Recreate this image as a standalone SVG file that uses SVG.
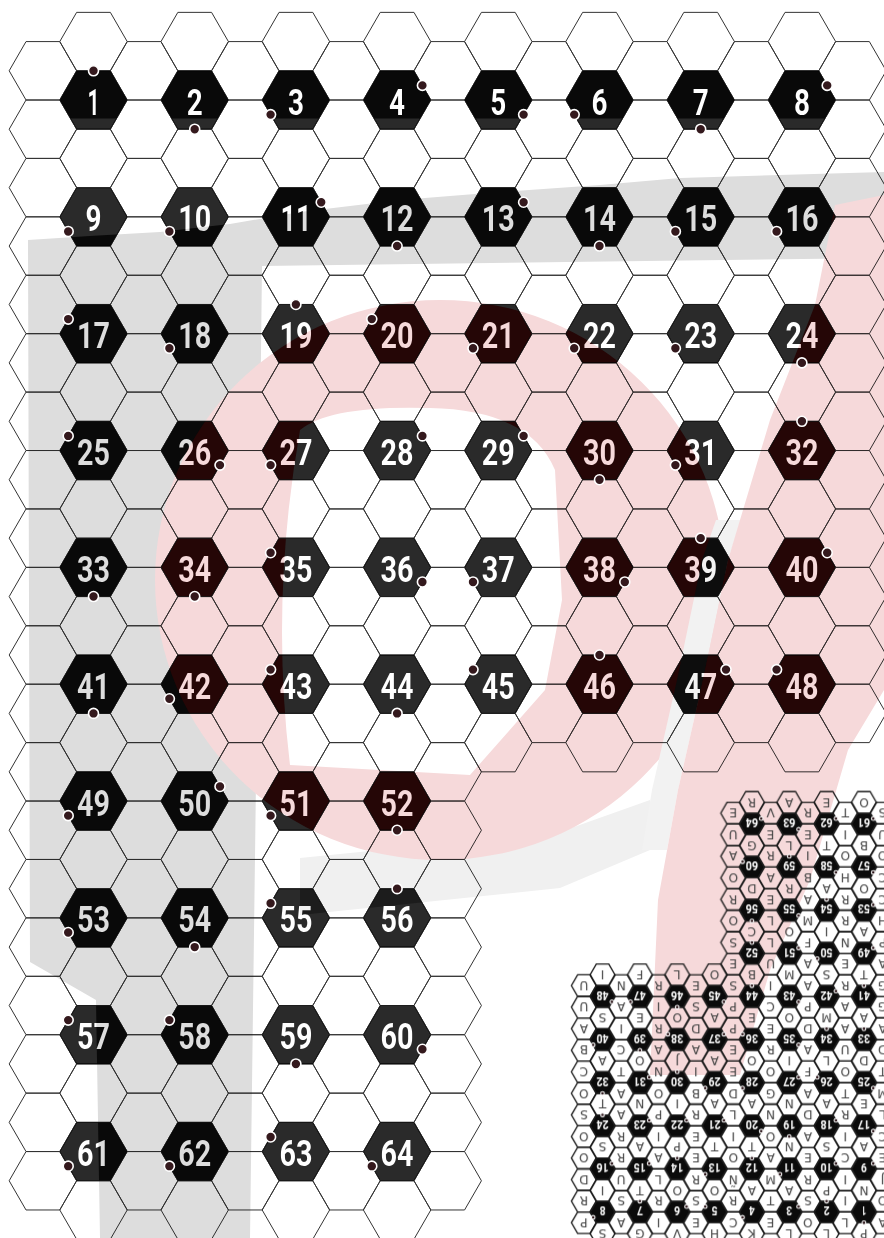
<svg xmlns="http://www.w3.org/2000/svg" xmlns:xlink="http://www.w3.org/1999/xlink" width="884" height="1238" viewBox="0 0 884 1238">
<style>
.n{font-family:Roboto,"DejaVu Sans",sans-serif;font-weight:700;font-size:36px;text-anchor:middle}
.l{font-family:"DejaVu Sans","Liberation Sans",sans-serif;font-size:33px;text-anchor:middle;fill:#444}
</style>
<defs>
<path id="h" d="M-33.73 0L-16.87-29.21H16.87L33.73 0L16.87 29.21H-16.87Z"/>
<g id="eA"><use href="#h" y="41.58"/><use href="#h" y="100"/><use href="#h" y="158.42"/><use href="#h" y="216.84"/><use href="#h" y="275.26"/><use href="#h" y="333.68"/><use href="#h" y="392.1"/><use href="#h" y="450.52"/><use href="#h" y="508.94"/><use href="#h" y="567.36"/><use href="#h" y="625.78"/><use href="#h" y="684.2"/><use href="#h" y="742.62"/></g>
<g id="eB"><use href="#h" y="801.04"/><use href="#h" y="859.46"/><use href="#h" y="917.88"/><use href="#h" y="976.3"/><use href="#h" y="1034.72"/><use href="#h" y="1093.14"/><use href="#h" y="1151.56"/><use href="#h" y="1209.98"/></g>
<g id="oA"><use href="#h" y="70.79"/><use href="#h" y="129.21"/><use href="#h" y="187.63"/><use href="#h" y="246.05"/><use href="#h" y="304.47"/><use href="#h" y="362.89"/><use href="#h" y="421.31"/><use href="#h" y="479.73"/><use href="#h" y="538.15"/><use href="#h" y="596.57"/><use href="#h" y="654.99"/><use href="#h" y="713.41"/></g>
<g id="oB"><use href="#h" y="771.83"/><use href="#h" y="830.25"/><use href="#h" y="888.67"/><use href="#h" y="947.09"/><use href="#h" y="1005.51"/><use href="#h" y="1063.93"/><use href="#h" y="1122.35"/><use href="#h" y="1180.77"/></g>
<g id="grid">
<use href="#eA" x="93.5"/><use href="#eA" x="194.7"/><use href="#eA" x="295.9"/><use href="#eA" x="397.1"/><use href="#eA" x="498.3"/><use href="#eA" x="599.5"/><use href="#eA" x="700.7"/><use href="#eA" x="801.9"/>
<use href="#eB" x="93.5"/><use href="#eB" x="194.7"/><use href="#eB" x="295.9"/><use href="#eB" x="397.1"/>
<use href="#oA" x="42.9"/><use href="#oA" x="144.1"/><use href="#oA" x="245.3"/><use href="#oA" x="346.5"/><use href="#oA" x="447.7"/><use href="#oA" x="548.9"/><use href="#oA" x="650.1"/><use href="#oA" x="751.3"/><use href="#oA" x="852.5"/>
<use href="#oB" x="42.9"/><use href="#oB" x="144.1"/><use href="#oB" x="245.3"/><use href="#oB" x="346.5"/><use href="#oB" x="447.7"/>
</g>
<clipPath id="nclip">
<use href="#h" x="93.5" y="100"/><use href="#h" x="194.7" y="100"/><use href="#h" x="295.9" y="100"/><use href="#h" x="397.1" y="100"/><use href="#h" x="498.3" y="100"/><use href="#h" x="599.5" y="100"/><use href="#h" x="700.7" y="100"/><use href="#h" x="801.9" y="100"/>
<use href="#h" x="93.5" y="216.84"/><use href="#h" x="194.7" y="216.84"/><use href="#h" x="295.9" y="216.84"/><use href="#h" x="397.1" y="216.84"/><use href="#h" x="498.3" y="216.84"/><use href="#h" x="599.5" y="216.84"/><use href="#h" x="700.7" y="216.84"/><use href="#h" x="801.9" y="216.84"/>
<use href="#h" x="93.5" y="333.68"/><use href="#h" x="194.7" y="333.68"/><use href="#h" x="295.9" y="333.68"/><use href="#h" x="397.1" y="333.68"/><use href="#h" x="498.3" y="333.68"/><use href="#h" x="599.5" y="333.68"/><use href="#h" x="700.7" y="333.68"/><use href="#h" x="801.9" y="333.68"/>
<use href="#h" x="93.5" y="450.52"/><use href="#h" x="194.7" y="450.52"/><use href="#h" x="295.9" y="450.52"/><use href="#h" x="397.1" y="450.52"/><use href="#h" x="498.3" y="450.52"/><use href="#h" x="599.5" y="450.52"/><use href="#h" x="700.7" y="450.52"/><use href="#h" x="801.9" y="450.52"/>
<use href="#h" x="93.5" y="567.36"/><use href="#h" x="194.7" y="567.36"/><use href="#h" x="295.9" y="567.36"/><use href="#h" x="397.1" y="567.36"/><use href="#h" x="498.3" y="567.36"/><use href="#h" x="599.5" y="567.36"/><use href="#h" x="700.7" y="567.36"/><use href="#h" x="801.9" y="567.36"/>
<use href="#h" x="93.5" y="684.2"/><use href="#h" x="194.7" y="684.2"/><use href="#h" x="295.9" y="684.2"/><use href="#h" x="397.1" y="684.2"/><use href="#h" x="498.3" y="684.2"/><use href="#h" x="599.5" y="684.2"/><use href="#h" x="700.7" y="684.2"/><use href="#h" x="801.9" y="684.2"/>
<use href="#h" x="93.5" y="801.04"/><use href="#h" x="194.7" y="801.04"/><use href="#h" x="295.9" y="801.04"/><use href="#h" x="397.1" y="801.04"/>
<use href="#h" x="93.5" y="917.88"/><use href="#h" x="194.7" y="917.88"/><use href="#h" x="295.9" y="917.88"/><use href="#h" x="397.1" y="917.88"/>
<use href="#h" x="93.5" y="1034.72"/><use href="#h" x="194.7" y="1034.72"/><use href="#h" x="295.9" y="1034.72"/><use href="#h" x="397.1" y="1034.72"/>
<use href="#h" x="93.5" y="1151.56"/><use href="#h" x="194.7" y="1151.56"/><use href="#h" x="295.9" y="1151.56"/><use href="#h" x="397.1" y="1151.56"/>
</clipPath>
<g id="ntext" class="n">
<text x="93.5" y="114.5" textLength="12" lengthAdjust="spacingAndGlyphs">1</text><text x="194.7" y="114.5" textLength="16" lengthAdjust="spacingAndGlyphs">2</text><text x="295.9" y="114.5" textLength="16" lengthAdjust="spacingAndGlyphs">3</text><text x="397.1" y="114.5" textLength="16" lengthAdjust="spacingAndGlyphs">4</text><text x="498.3" y="114.5" textLength="16" lengthAdjust="spacingAndGlyphs">5</text><text x="599.5" y="114.5" textLength="16" lengthAdjust="spacingAndGlyphs">6</text><text x="700.7" y="114.5" textLength="16" lengthAdjust="spacingAndGlyphs">7</text><text x="801.9" y="114.5" textLength="16" lengthAdjust="spacingAndGlyphs">8</text>
<text x="93.5" y="231.3" textLength="16" lengthAdjust="spacingAndGlyphs">9</text><text x="194.7" y="231.3" textLength="33" lengthAdjust="spacingAndGlyphs">10</text><text x="295.9" y="231.3" textLength="31" lengthAdjust="spacingAndGlyphs">11</text><text x="397.1" y="231.3" textLength="33" lengthAdjust="spacingAndGlyphs">12</text><text x="498.3" y="231.3" textLength="33" lengthAdjust="spacingAndGlyphs">13</text><text x="599.5" y="231.3" textLength="33" lengthAdjust="spacingAndGlyphs">14</text><text x="700.7" y="231.3" textLength="33" lengthAdjust="spacingAndGlyphs">15</text><text x="801.9" y="231.3" textLength="33" lengthAdjust="spacingAndGlyphs">16</text>
<text x="93.5" y="348.2" textLength="33" lengthAdjust="spacingAndGlyphs">17</text><text x="194.7" y="348.2" textLength="33" lengthAdjust="spacingAndGlyphs">18</text><text x="295.9" y="348.2" textLength="33" lengthAdjust="spacingAndGlyphs">19</text><text x="397.1" y="348.2" textLength="33" lengthAdjust="spacingAndGlyphs">20</text><text x="498.3" y="348.2" textLength="33" lengthAdjust="spacingAndGlyphs">21</text><text x="599.5" y="348.2" textLength="33" lengthAdjust="spacingAndGlyphs">22</text><text x="700.7" y="348.2" textLength="33" lengthAdjust="spacingAndGlyphs">23</text><text x="801.9" y="348.2" textLength="33" lengthAdjust="spacingAndGlyphs">24</text>
<text x="93.5" y="465" textLength="33" lengthAdjust="spacingAndGlyphs">25</text><text x="194.7" y="465" textLength="33" lengthAdjust="spacingAndGlyphs">26</text><text x="295.9" y="465" textLength="33" lengthAdjust="spacingAndGlyphs">27</text><text x="397.1" y="465" textLength="33" lengthAdjust="spacingAndGlyphs">28</text><text x="498.3" y="465" textLength="33" lengthAdjust="spacingAndGlyphs">29</text><text x="599.5" y="465" textLength="33" lengthAdjust="spacingAndGlyphs">30</text><text x="700.7" y="465" textLength="33" lengthAdjust="spacingAndGlyphs">31</text><text x="801.9" y="465" textLength="33" lengthAdjust="spacingAndGlyphs">32</text>
<text x="93.5" y="581.9" textLength="33" lengthAdjust="spacingAndGlyphs">33</text><text x="194.7" y="581.9" textLength="33" lengthAdjust="spacingAndGlyphs">34</text><text x="295.9" y="581.9" textLength="33" lengthAdjust="spacingAndGlyphs">35</text><text x="397.1" y="581.9" textLength="33" lengthAdjust="spacingAndGlyphs">36</text><text x="498.3" y="581.9" textLength="33" lengthAdjust="spacingAndGlyphs">37</text><text x="599.5" y="581.9" textLength="33" lengthAdjust="spacingAndGlyphs">38</text><text x="700.7" y="581.9" textLength="33" lengthAdjust="spacingAndGlyphs">39</text><text x="801.9" y="581.9" textLength="33" lengthAdjust="spacingAndGlyphs">40</text>
<text x="93.5" y="698.7" textLength="33" lengthAdjust="spacingAndGlyphs">41</text><text x="194.7" y="698.7" textLength="33" lengthAdjust="spacingAndGlyphs">42</text><text x="295.9" y="698.7" textLength="33" lengthAdjust="spacingAndGlyphs">43</text><text x="397.1" y="698.7" textLength="33" lengthAdjust="spacingAndGlyphs">44</text><text x="498.3" y="698.7" textLength="33" lengthAdjust="spacingAndGlyphs">45</text><text x="599.5" y="698.7" textLength="33" lengthAdjust="spacingAndGlyphs">46</text><text x="700.7" y="698.7" textLength="33" lengthAdjust="spacingAndGlyphs">47</text><text x="801.9" y="698.7" textLength="33" lengthAdjust="spacingAndGlyphs">48</text>
<text x="93.5" y="815.5" textLength="33" lengthAdjust="spacingAndGlyphs">49</text><text x="194.7" y="815.5" textLength="33" lengthAdjust="spacingAndGlyphs">50</text><text x="295.9" y="815.5" textLength="33" lengthAdjust="spacingAndGlyphs">51</text><text x="397.1" y="815.5" textLength="33" lengthAdjust="spacingAndGlyphs">52</text>
<text x="93.5" y="932.4" textLength="33" lengthAdjust="spacingAndGlyphs">53</text><text x="194.7" y="932.4" textLength="33" lengthAdjust="spacingAndGlyphs">54</text><text x="295.9" y="932.4" textLength="33" lengthAdjust="spacingAndGlyphs">55</text><text x="397.1" y="932.4" textLength="33" lengthAdjust="spacingAndGlyphs">56</text>
<text x="93.5" y="1049.2" textLength="33" lengthAdjust="spacingAndGlyphs">57</text><text x="194.7" y="1049.2" textLength="33" lengthAdjust="spacingAndGlyphs">58</text><text x="295.9" y="1049.2" textLength="33" lengthAdjust="spacingAndGlyphs">59</text><text x="397.1" y="1049.2" textLength="33" lengthAdjust="spacingAndGlyphs">60</text>
<text x="93.5" y="1166.1" textLength="33" lengthAdjust="spacingAndGlyphs">61</text><text x="194.7" y="1166.1" textLength="33" lengthAdjust="spacingAndGlyphs">62</text><text x="295.9" y="1166.1" textLength="33" lengthAdjust="spacingAndGlyphs">63</text><text x="397.1" y="1166.1" textLength="33" lengthAdjust="spacingAndGlyphs">64</text>
</g>
<g id="dots">
<circle cx="93.5" cy="70.79" r="5"/><circle cx="194.7" cy="129.21" r="5"/><circle cx="270.6" cy="114.6" r="5"/><circle cx="422.4" cy="85.4" r="5"/><circle cx="523.6" cy="114.6" r="5"/><circle cx="574.2" cy="114.6" r="5"/><circle cx="700.7" cy="129.21" r="5"/><circle cx="827.2" cy="85.4" r="5"/>
<circle cx="68.2" cy="231.44" r="5"/><circle cx="169.4" cy="231.44" r="5"/><circle cx="321.2" cy="202.24" r="5"/><circle cx="397.1" cy="246.05" r="5"/><circle cx="523.6" cy="202.24" r="5"/><circle cx="599.5" cy="246.05" r="5"/><circle cx="675.4" cy="231.44" r="5"/><circle cx="776.6" cy="231.44" r="5"/>
<circle cx="68.2" cy="319.08" r="5"/><circle cx="169.4" cy="348.28" r="5"/><circle cx="295.9" cy="304.47" r="5"/><circle cx="371.8" cy="319.08" r="5"/><circle cx="473" cy="348.28" r="5"/><circle cx="574.2" cy="348.28" r="5"/><circle cx="675.4" cy="348.28" r="5"/><circle cx="801.9" cy="362.89" r="5"/>
<circle cx="68.2" cy="435.92" r="5"/><circle cx="220" cy="465.12" r="5"/><circle cx="270.6" cy="465.12" r="5"/><circle cx="422.4" cy="435.92" r="5"/><circle cx="523.6" cy="435.92" r="5"/><circle cx="599.5" cy="479.73" r="5"/><circle cx="675.4" cy="465.12" r="5"/><circle cx="801.9" cy="421.31" r="5"/>
<circle cx="93.5" cy="596.57" r="5"/><circle cx="194.7" cy="596.57" r="5"/><circle cx="270.6" cy="552.76" r="5"/><circle cx="422.4" cy="581.96" r="5"/><circle cx="473" cy="581.96" r="5"/><circle cx="624.8" cy="581.96" r="5"/><circle cx="700.7" cy="538.15" r="5"/><circle cx="827.2" cy="552.76" r="5"/>
<circle cx="93.5" cy="713.41" r="5"/><circle cx="169.4" cy="698.8" r="5"/><circle cx="270.6" cy="669.6" r="5"/><circle cx="397.1" cy="713.41" r="5"/><circle cx="473" cy="669.6" r="5"/><circle cx="599.5" cy="654.99" r="5"/><circle cx="726" cy="669.6" r="5"/><circle cx="776.6" cy="669.6" r="5"/>
<circle cx="68.2" cy="815.64" r="5"/><circle cx="220" cy="786.44" r="5"/><circle cx="270.6" cy="815.64" r="5"/><circle cx="397.1" cy="830.25" r="5"/>
<circle cx="68.2" cy="932.48" r="5"/><circle cx="194.7" cy="947.09" r="5"/><circle cx="270.6" cy="903.28" r="5"/><circle cx="397.1" cy="888.67" r="5"/>
<circle cx="68.2" cy="1020.12" r="5"/><circle cx="169.4" cy="1020.12" r="5"/><circle cx="295.9" cy="1063.93" r="5"/><circle cx="422.4" cy="1049.32" r="5"/>
<circle cx="68.2" cy="1166.16" r="5"/><circle cx="169.4" cy="1166.16" r="5"/><circle cx="270.6" cy="1136.96" r="5"/><circle cx="371.8" cy="1166.16" r="5"/>
</g>
<path id="shGray" d="M28 240L90 236L160 232L230 224L300 212L400 200L500 192L600 185L680 178L884 172V258L262 266L256 780L250 1238H100L96 1000L30 962Z"/>
<path id="shRing" fill-rule="evenodd" d="M155 580A285 280 0 1 0 725 580A285 280 0 1 0 155 580ZM300 430Q330 405 430 408Q530 410 555 470L562 600L545 690L470 775L290 765Q270 600 300 430Z"/>
<path id="shStripe" d="M716 520L741 520L728 560L703 680L678 790L667 850L642 850L652 790L677 680L702 560Z"/>
<path id="shStem" d="M815 305L835 205L884 195V690L848 750L810 880L770 970L740 1075H650L658 900L678 790L703 680L728 560L770 420Z"/>
<path id="shLight" d="M300 858L560 832L650 800L650 850L560 888L300 915Z"/>
<mask id="tm" maskUnits="userSpaceOnUse" x="0" y="0" width="884" height="1238"><rect width="884" height="1238" fill="#fff"/><use href="#ntext" fill="#000"/></mask>
</defs>
<rect id="paper" width="884" height="1238" fill="#fff"/>
<g id="background">
<use href="#shGray" fill="#dddddd"/>
<use href="#shLight" fill="#f0f0f0"/>
<use href="#shRing" fill="#f6d9da"/>
<use href="#shStripe" fill="#f2f2f2"/>
<use href="#shStem" fill="#f6d9da"/>
</g>
<g id="number-cells" mask="url(#tm)">
<g clip-path="url(#nclip)">
<rect width="884" height="1238" fill="#2a2a2a"/>
<use href="#shGray" fill="#090909"/>
<use href="#shLight" fill="#1c1c1c"/>
<rect width="884" height="118.5" fill="#090909"/>
<rect x="240" y="180" width="644" height="70" fill="#090909"/>
<use href="#shRing" fill="#250606"/>
<use href="#shStripe" fill="#0d0d0d"/>
<use href="#shStem" fill="#250606"/>
</g>
</g>
<g id="connectors-grid" fill="none" stroke="#333" stroke-width="1" style="mix-blend-mode:multiply"><use href="#grid"/></g>
<g id="markers"><use href="#dots" fill="#34191d" stroke="#fff" stroke-width="1.6"/></g>
<g id="minimap" transform="matrix(-0.369 0 0 -0.369 898.5 1248.9)">
<rect width="884" height="1238" fill="#0b0b0b" clip-path="url(#nclip)"/>
<use href="#grid" fill="none" stroke="#1c1c1c" stroke-width="3.6"/>
<use href="#ntext" fill="#fff"/>
<g class="l">
<text x="93.5" y="53.6">P</text><text x="194.7" y="53.6">L</text><text x="295.9" y="53.6">L</text><text x="397.1" y="53.6">K</text><text x="498.3" y="53.6">H</text><text x="599.5" y="53.6">V</text><text x="700.7" y="53.6">G</text><text x="801.9" y="53.6">S</text>
<text x="93.5" y="170.4">N</text><text x="194.7" y="170.4">P</text><text x="295.9" y="170.4">A</text><text x="397.1" y="170.4">A</text><text x="498.3" y="170.4">O</text><text x="599.5" y="170.4">O</text><text x="700.7" y="170.4">T</text><text x="801.9" y="170.4">I</text>
<text x="93.5" y="287.3">A</text><text x="194.7" y="287.3">S</text><text x="295.9" y="287.3">N</text><text x="397.1" y="287.3">T</text><text x="498.3" y="287.3">T</text><text x="599.5" y="287.3">P</text><text x="700.7" y="287.3">A</text><text x="801.9" y="287.3">S</text>
<text x="93.5" y="404.1">E</text><text x="194.7" y="404.1">A</text><text x="295.9" y="404.1">N</text><text x="397.1" y="404.1">A</text><text x="498.3" y="404.1">A</text><text x="599.5" y="404.1">I</text><text x="700.7" y="404.1">N</text><text x="801.9" y="404.1">T</text>
<text x="93.5" y="520.9">D</text><text x="194.7" y="520.9">L</text><text x="295.9" y="520.9">I</text><text x="397.1" y="520.9">O</text><text x="498.3" y="520.9">A</text><text x="599.5" y="520.9">J</text><text x="700.7" y="520.9">O</text><text x="801.9" y="520.9">A</text>
<text x="93.5" y="637.8">A</text><text x="194.7" y="637.8">M</text><text x="295.9" y="637.8">O</text><text x="397.1" y="637.8">E</text><text x="498.3" y="637.8">A</text><text x="599.5" y="637.8">O</text><text x="700.7" y="637.8">E</text><text x="801.9" y="637.8">S</text>
<text x="93.5" y="754.6">T</text><text x="194.7" y="754.6">S</text><text x="295.9" y="754.6">M</text><text x="397.1" y="754.6">B</text><text x="498.3" y="754.6">O</text><text x="599.5" y="754.6">L</text><text x="700.7" y="754.6">F</text><text x="801.9" y="754.6">I</text>
<text x="93.5" y="871.5">A</text><text x="194.7" y="871.5">I</text><text x="295.9" y="871.5">O</text><text x="397.1" y="871.5">C</text>
<text x="93.5" y="988.3">O</text><text x="194.7" y="988.3">A</text><text x="295.9" y="988.3">R</text><text x="397.1" y="988.3">D</text>
<text x="93.5" y="1105.1">B</text><text x="194.7" y="1105.1">T</text><text x="295.9" y="1105.1">L</text><text x="397.1" y="1105.1">G</text>
<text x="93.5" y="1222">O</text><text x="194.7" y="1222">E</text><text x="295.9" y="1222">A</text><text x="397.1" y="1222">R</text>
<text x="42.9" y="82.8">A</text><text x="144.1" y="82.8">L</text><text x="245.3" y="82.8">O</text><text x="346.5" y="82.8">E</text><text x="447.7" y="82.8">C</text><text x="548.9" y="82.8">E</text><text x="650.1" y="82.8">I</text><text x="751.3" y="82.8">A</text><text x="852.5" y="82.8">P</text>
<text x="42.9" y="141.2">O</text><text x="144.1" y="141.2">I</text><text x="245.3" y="141.2">S</text><text x="346.5" y="141.2">T</text><text x="447.7" y="141.2">R</text><text x="548.9" y="141.2">S</text><text x="650.1" y="141.2">R</text><text x="751.3" y="141.2">S</text><text x="852.5" y="141.2">R</text>
<text x="42.9" y="199.6">J</text><text x="144.1" y="199.6">I</text><text x="245.3" y="199.6">R</text><text x="346.5" y="199.6">M</text><text x="447.7" y="199.6">Ñ</text><text x="548.9" y="199.6">R</text><text x="650.1" y="199.6">L</text><text x="751.3" y="199.6">U</text><text x="852.5" y="199.6">D</text>
<text x="42.9" y="258.1">E</text><text x="144.1" y="258.1">C</text><text x="245.3" y="258.1">E</text><text x="346.5" y="258.1">A</text><text x="447.7" y="258.1">O</text><text x="548.9" y="258.1">E</text><text x="650.1" y="258.1">A</text><text x="751.3" y="258.1">R</text><text x="852.5" y="258.1">O</text>
<text x="42.9" y="316.5">C</text><text x="144.1" y="316.5">I</text><text x="245.3" y="316.5">A</text><text x="346.5" y="316.5">O</text><text x="447.7" y="316.5">I</text><text x="548.9" y="316.5">E</text><text x="650.1" y="316.5">I</text><text x="751.3" y="316.5">R</text><text x="852.5" y="316.5">O</text>
<text x="42.9" y="374.9">L</text><text x="144.1" y="374.9">R</text><text x="245.3" y="374.9">D</text><text x="346.5" y="374.9">N</text><text x="447.7" y="374.9">L</text><text x="548.9" y="374.9">R</text><text x="650.1" y="374.9">P</text><text x="751.3" y="374.9">A</text><text x="852.5" y="374.9">S</text>
<text x="42.9" y="433.3">M</text><text x="144.1" y="433.3">T</text><text x="245.3" y="433.3">A</text><text x="346.5" y="433.3">G</text><text x="447.7" y="433.3">D</text><text x="548.9" y="433.3">B</text><text x="650.1" y="433.3">O</text><text x="751.3" y="433.3">A</text><text x="852.5" y="433.3">O</text>
<text x="42.9" y="491.7">T</text><text x="144.1" y="491.7">O</text><text x="245.3" y="491.7">F</text><text x="346.5" y="491.7">O</text><text x="447.7" y="491.7">E</text><text x="548.9" y="491.7">I</text><text x="650.1" y="491.7">N</text><text x="751.3" y="491.7">T</text><text x="852.5" y="491.7">C</text>
<text x="42.9" y="550.2">D</text><text x="144.1" y="550.2">U</text><text x="245.3" y="550.2">A</text><text x="346.5" y="550.2">R</text><text x="447.7" y="550.2">E</text><text x="548.9" y="550.2">A</text><text x="650.1" y="550.2">A</text><text x="751.3" y="550.2">C</text><text x="852.5" y="550.2">B</text>
<text x="42.9" y="608.6">A</text><text x="144.1" y="608.6">A</text><text x="245.3" y="608.6">D</text><text x="346.5" y="608.6">E</text><text x="447.7" y="608.6">P</text><text x="548.9" y="608.6">D</text><text x="650.1" y="608.6">R</text><text x="751.3" y="608.6">I</text><text x="852.5" y="608.6">A</text>
<text x="42.9" y="667">G</text><text x="144.1" y="667">A</text><text x="245.3" y="667">P</text><text x="346.5" y="667">C</text><text x="447.7" y="667">P</text><text x="548.9" y="667">S</text><text x="650.1" y="667">I</text><text x="751.3" y="667">A</text><text x="852.5" y="667">U</text>
<text x="42.9" y="725.4">G</text><text x="144.1" y="725.4">R</text><text x="245.3" y="725.4">A</text><text x="346.5" y="725.4">I</text><text x="447.7" y="725.4">S</text><text x="548.9" y="725.4">E</text><text x="650.1" y="725.4">R</text><text x="751.3" y="725.4">N</text><text x="852.5" y="725.4">U</text>
<text x="42.9" y="783.8">A</text><text x="144.1" y="783.8">E</text><text x="245.3" y="783.8">A</text><text x="346.5" y="783.8">U</text><text x="447.7" y="783.8">E</text>
<text x="42.9" y="842.3">P</text><text x="144.1" y="842.3">N</text><text x="245.3" y="842.3">F</text><text x="346.5" y="842.3">L</text><text x="447.7" y="842.3">S</text>
<text x="42.9" y="900.7">H</text><text x="144.1" y="900.7">R</text><text x="245.3" y="900.7">M</text><text x="346.5" y="900.7">L</text><text x="447.7" y="900.7">O</text>
<text x="42.9" y="959.1">C</text><text x="144.1" y="959.1">R</text><text x="245.3" y="959.1">A</text><text x="346.5" y="959.1">E</text><text x="447.7" y="959.1">R</text>
<text x="42.9" y="1017.5">C</text><text x="144.1" y="1017.5">H</text><text x="245.3" y="1017.5">B</text><text x="346.5" y="1017.5">A</text><text x="447.7" y="1017.5">O</text>
<text x="42.9" y="1075.9">O</text><text x="144.1" y="1075.9">O</text><text x="245.3" y="1075.9">I</text><text x="346.5" y="1075.9">R</text><text x="447.7" y="1075.9">A</text>
<text x="42.9" y="1134.4">U</text><text x="144.1" y="1134.4">I</text><text x="245.3" y="1134.4">E</text><text x="346.5" y="1134.4">E</text><text x="447.7" y="1134.4">U</text>
<text x="42.9" y="1192.8">S</text><text x="144.1" y="1192.8">T</text><text x="245.3" y="1192.8">R</text><text x="346.5" y="1192.8">V</text><text x="447.7" y="1192.8">E</text>
</g>
<use href="#dots" fill="#2a1418" stroke="#fff" stroke-width="3"/>
</g>
</svg>
